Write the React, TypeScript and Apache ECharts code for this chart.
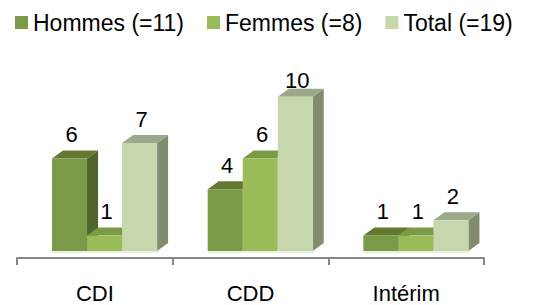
import React, { useEffect, useRef } from "react";
import * as echarts from "echarts";

const categories = ["CDI", "CDD", "Intérim"];
const seriesNames = ["Hommes (=11)", "Femmes (=8)", "Total (=19)"];
const hommes = [6, 4, 1];
const femmes = [1, 6, 1];
const total = [7, 10, 2];

const FONT = '"Liberation Sans", Arial, sans-serif';

const palettes = [
  { front: "#7b9a47", top: "#62792f", side: "#4f652a" },
  { front: "#9bbb59", top: "#7b9a46", side: "#6e8a3c" },
  { front: "#c6d7ad", top: "#9ba889", side: "#818b6d" },
];

function makeSeries(idx: number, values: number[]) {
  const pal = palettes[idx];
  return {
    type: "custom",
    name: seriesNames[idx],
    itemStyle: { color: pal.front },
    data: values.map((v, i) => [i, v]),
    renderItem: (params: any, api: any) => {
      const ci = api.value(0);
      const v = api.value(1);
      const band = api.size([1, 0])[0];
      const base = api.coord([ci, 0]);
      const topPt = api.coord([ci, v]);
      const w = band * 0.225;
      const x0 = base[0] - band * 0.275 + idx * w;
      const yb = base[1];
      const yt = topPt[1];
      const dx = 11;
      const dy = 8;
      const labelY = Math.max(yt - 24, 80);
      return {
        type: "group",
        children: [
          {
            type: "rect",
            shape: { x: x0, y: yb, width: w + 2, height: 2 },
            style: { fill: "#eaf0e0" },
          },
          {
            type: "polygon",
            shape: {
              points: [
                [x0 + w, yt],
                [x0 + w + dx, yt - dy],
                [x0 + w + dx, yb - dy],
                [x0 + w, yb],
              ],
            },
            style: { fill: pal.side },
          },
          {
            type: "polygon",
            shape: {
              points: [
                [x0, yt],
                [x0 + dx, yt - dy],
                [x0 + w + dx, yt - dy],
                [x0 + w, yt],
              ],
            },
            style: { fill: pal.top },
          },
          {
            type: "rect",
            shape: { x: x0, y: yt, width: w, height: yb - yt },
            style: { fill: pal.front },
          },
          {
            type: "text",
            style: {
              text: String(v),
              x: x0 + w / 2 + 2,
              y: labelY,
              align: "center",
              verticalAlign: "middle",
              font: `22px ${FONT}`,
              fill: "#000",
            },
          },
        ],
      };
    },
  };
}

export default function App() {
  const ref = useRef<HTMLDivElement>(null);
  useEffect(() => {
    if (!ref.current) return;
    const chart = echarts.init(ref.current, null, { renderer: "svg" });
    chart.setOption({
      animation: false,
      backgroundColor: "#ffffff",
      textStyle: { fontFamily: FONT },
      legend: {
        data: seriesNames,
        left: 10,
        top: 6,
        itemWidth: 13,
        itemHeight: 13,
        itemGap: 23,
        icon: "rect",
        textStyle: { fontSize: 23, color: "#000", fontFamily: FONT },
      },
      grid: { left: 17, right: 52, top: 89, bottom: 47, containLabel: false, outerBoundsMode: "none" },
      xAxis: {
        type: "category",
        data: categories,
        axisLine: { show: true, onZero: false, lineStyle: { color: "#878787", width: 2 } },
        axisTick: { show: true, inside: false, length: 7, alignWithLabel: false, lineStyle: { color: "#878787", width: 2 } },
        axisLabel: { margin: 24, fontSize: 22, lineHeight: 22, color: "#000", fontFamily: FONT },
      },
      yAxis: {
        type: "value",
        show: false,
        min: -0.45,
        max: 10.5,
        splitLine: { show: false },
      },
      series: [makeSeries(0, hommes), makeSeries(1, femmes), makeSeries(2, total)],
    });
    return () => chart.dispose();
  }, []);
  return <div ref={ref} style={{ width: 536, height: 305, position: "absolute", left: 0, top: 0 }} />;
}
